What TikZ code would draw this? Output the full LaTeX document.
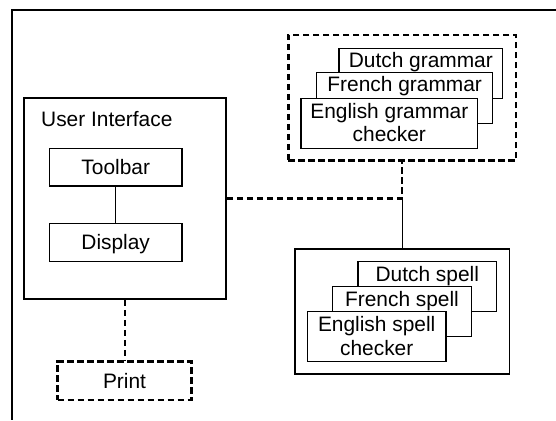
\documentclass[tikz,border=0pt]{standalone}
\usepackage{fontspec}
\setmainfont{Liberation Sans}
\begin{document}
\begin{tikzpicture}[x=1pt,y=-1pt,
  font=\fontsize{20.9}{24}\selectfont,
  frame/.style={line width=2pt},
  container/.style={draw, line width=1.6pt, inner sep=0},
  group/.style={draw, line width=2.6pt, dash pattern=on 6.5pt off 3.5pt, inner sep=0},
  unitbox/.style={draw, line width=1.2pt, inner sep=0, text height=14.8pt, text depth=0pt},
  optbox/.style={unitbox, line width=2.6pt, dash pattern=on 6.5pt off 3.5pt},
  card/.style={draw, fill=white, line width=1.2pt, inner sep=0, minimum height=50},
  cardtext/.style={anchor=base, inner sep=0},
  link/.style={line width=1.2pt},
  optlink/.style={line width=2.2pt, dash pattern=on 6.5pt off 3.5pt}]
\useasboundingbox (0,0) rectangle (556,420);

% page frame (open to the right and bottom)
\coordinate (ftr) at (556,10.5);
\coordinate (ftl) at (12,10.5);
\coordinate (fbl) at (12,420);
\draw[frame] (ftr) -- (ftl) -- (fbl);

% user interface
\node[container, minimum width=202, minimum height=201] (ui) at (125,198.5) {};
\node[anchor=base west, inner sep=0] (uit) at (41,126.7) {User Interface};
\node[unitbox, minimum width=132.7, minimum height=37.7] (tb) at (115.7,167.2) {Toolbar};
\node[unitbox, minimum width=132.7, minimum height=38] (dp) at (115.7,242.3) {Display};
\draw[link] (tb) -- (dp);

% optional print module
\node[optbox, minimum width=134, minimum height=38.3] (pr) at (124.5,380.8) {Print};
\draw[optlink] (ui.south) -- (ui.south |- pr.north);

% grammar checkers (optional group)
\node[group, minimum width=227.7, minimum height=125.7] (gb) at (402.2,97.9) {};
\node[card, minimum width=163.7] (dg) at (420.8,73.3) {};
\node[cardtext] (dgt) at ([yshift=-20pt]dg.north) {Dutch grammar};
\node[card, minimum width=176, minimum height=50.6] (fg) at (404.7,98) {};
\node[cardtext] (fgt) at ([yshift=-19.5pt]fg.north) {French grammar};
\node[card, minimum width=176.7] (eg) at (389.3,123.3) {};
\node[cardtext] (egt1) at ([yshift=-20.5pt]eg.north) {English grammar};
\node[cardtext] (egt2) at ([yshift=-44.2pt]eg.north) {checker};

% spell checkers
\node[container, minimum width=214.3, minimum height=125] (sb) at (402.2,311.5) {};
\node[card, minimum width=138.7] (ds) at (427.3,286.3) {};
\node[cardtext] (dst) at ([yshift=-20.4pt]ds.north) {Dutch spell};
\node[card, minimum width=138.6] (fs) at (402,311.7) {};
\node[cardtext] (fst) at ([yshift=-20.4pt]fs.north) {French spell};
\node[card, minimum width=138.7] (es) at (376.7,336.8) {};
\node[cardtext] (est1) at ([yshift=-20pt]es.north) {English spell};
\node[cardtext] (est2) at ([yshift=-44.5pt]es.north) {checker};

% connections
\draw[optlink] (ui.east) -- (ui.east -| gb.south) coordinate (j) -- (gb.south);
\draw[link] (j) -- (sb.north);
\end{tikzpicture}
\end{document}
